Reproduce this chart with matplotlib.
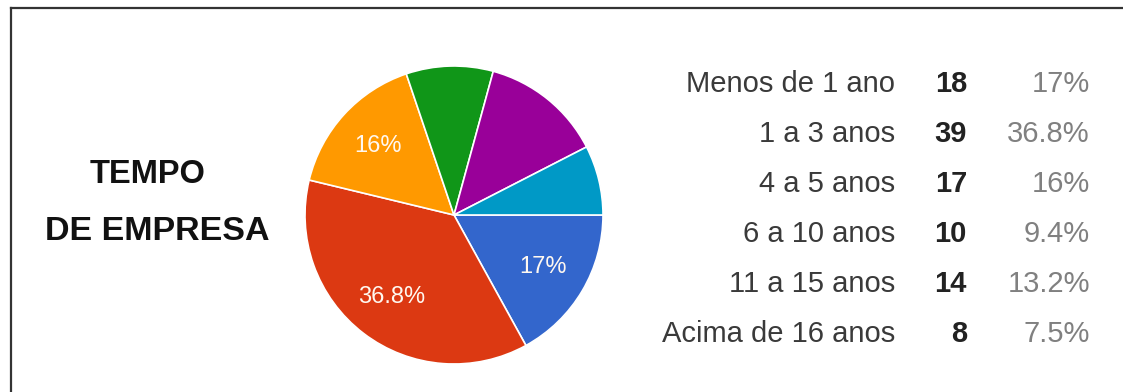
import matplotlib.pyplot as plt
from matplotlib.lines import Line2D

plt.rcParams['font.family'] = ['Liberation Sans', 'DejaVu Sans']

# Tempo de empresa
categorias = ['Menos de 1 ano', '1 a 3 anos', '4 a 5 anos', '6 a 10 anos',
              '11 a 15 anos', 'Acima de 16 anos']
contagens = [18, 39, 17, 10, 14, 8]
percentuais = ['17%', '36.8%', '16%', '9.4%', '13.2%', '7.5%']
cores = ['#3366cc', '#dc3912', '#ff9900', '#109618', '#990099', '#0099c6']

W, H = 1123, 392
fig = plt.figure(figsize=(W / 100, H / 100), dpi=100)
fig.patch.set_facecolor('white')

# frame lines (top and left only)
fig.add_artist(Line2D([11 / W, 1], [1 - 8 / H, 1 - 8 / H], color='#333333', lw=1.6))
fig.add_artist(Line2D([11 / W, 11 / W], [0, 1 - 8 / H], color='#333333', lw=1.6))

# title on the left
fig.text(148 / W, 1 - 183 / H, 'TEMPO', ha='center', va='baseline',
         fontsize=23.5, fontweight='bold', color='#111111')
fig.text(157 / W, 1 - 240 / H, 'DE EMPRESA', ha='center', va='baseline',
         fontsize=24.5, fontweight='bold', color='#111111')

# pie
cx, cy, r = 454, 215, 149
ax = fig.add_axes([(cx - 150) / W, (H - cy - 150) / H, 300 / W, 300 / H])


def rotulo(p):
    return f'{p:.1f}%'.replace('.0%', '%') if p >= 15 else ''


wedges, texts, autotexts = ax.pie(
    contagens, colors=cores, startangle=0, counterclock=False,
    radius=r / 150, autopct=rotulo, pctdistance=0.69,
    wedgeprops=dict(edgecolor='white', linewidth=1.2),
    textprops=dict(color='#fff8f0', fontsize=17))
ax.set_xlim(-1, 1)
ax.set_ylim(-1, 1)
ax.set_aspect('equal')

# legend table on the right
y0, dy = 92, 50
for i, (cat, n, pct) in enumerate(zip(categorias, contagens, percentuais)):
    y = 1 - (y0 + i * dy) / H
    fig.text(895 / W, y, cat, ha='right', va='baseline', fontsize=21, color='#3a3a3a')
    fig.text(967 / W, y, str(n), ha='right', va='baseline', fontsize=21,
             fontweight='bold', color='#222222')
    fig.text(1090 / W, y, pct, ha='right', va='baseline', fontsize=21, color='#808080')

fig.savefig('out.png', dpi=100)
